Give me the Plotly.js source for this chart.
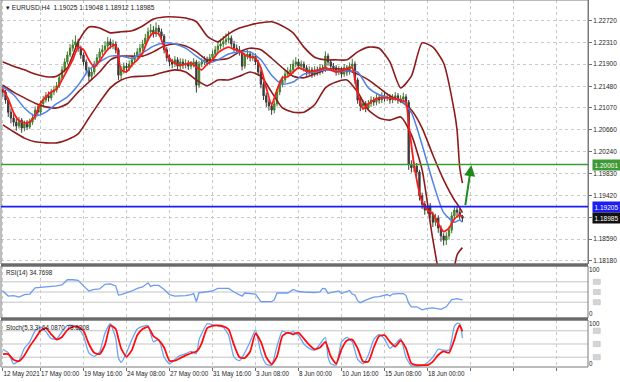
<!DOCTYPE html>
<html><head><meta charset="utf-8">
<script src="https://cdn.plot.ly/plotly-3.0.1.min.js"></script>
<style>html,body{margin:0;padding:0;background:#fff;}#chart{width:620px;height:382px;}</style>
</head><body><div id="chart"></div>
<script>
// ---- bar axis (H4 bars, index of bar) ----
const firstBar = 2;
const timeTickBars = [2,16,32,48,64,80,96,112,128,144,160,176,192,208];
const timeTickText = ['12 May 2021','17 May 00:00','19 May 16:00','24 May 08:00','27 May 00:00','31 May 16:00','3 Jun 08:00','8 Jun 00:00','10 Jun 16:00','15 Jun 08:00','18 Jun 00:00','','',''];

// ---- price scale ----
const priceTicks = [1.22720,1.22310,1.21900,1.21480,1.21070,1.20660,1.20240,1.19830,1.19420,1.19005,1.18590,1.18180];
const priceTickText = ['1.22720','1.22310','1.21900','1.21480','1.21070','1.20660','1.20240','1.19830','1.19420','','1.18590','1.18180'];

// ---- EURUSD H4 candles ----
const openP = [1.2142,1.2137,1.2122,1.2099,1.2088,1.2080,1.2073,1.2084,1.2069,1.2077,
1.2071,1.2080,1.2088,1.2103,1.2099,1.2115,1.2122,1.2130,1.2126,1.2137,
1.2141,1.2149,1.2164,1.2179,1.2194,1.2207,1.2220,1.2226,1.2232,1.2220,
1.2207,1.2194,1.2179,1.2167,1.2175,1.2190,1.2202,1.2213,1.2217,1.2224,
1.2232,1.2226,1.2228,1.2217,1.2169,1.2179,1.2186,1.2183,1.2190,1.2198,
1.2205,1.2213,1.2220,1.2228,1.2239,1.2251,1.2254,1.2247,1.2258,1.2251,
1.2243,1.2217,1.2202,1.2194,1.2190,1.2198,1.2186,1.2194,1.2188,1.2192,
1.2186,1.2190,1.2194,1.2150,1.2190,1.2194,1.2198,1.2194,1.2202,1.2209,
1.2217,1.2224,1.2228,1.2232,1.2236,1.2239,1.2228,1.2220,1.2217,1.2213,
1.2186,1.2205,1.2209,1.2202,1.2205,1.2194,1.2175,1.2152,1.2130,1.2118,
1.2111,1.2103,1.2115,1.2137,1.2152,1.2160,1.2171,1.2175,1.2179,1.2190,
1.2194,1.2186,1.2190,1.2183,1.2175,1.2179,1.2171,1.2179,1.2175,1.2183,
1.2179,1.2205,1.2194,1.2186,1.2183,1.2175,1.2179,1.2171,1.2183,1.2175,
1.2186,1.2190,1.2160,1.2122,1.2111,1.2115,1.2107,1.2115,1.2122,1.2118,
1.2126,1.2122,1.2130,1.2126,1.2128,1.2122,1.2126,1.2130,1.2122,1.2124,
1.2128,1.2118,1.2000,1.1994,1.1997,1.1986,1.1941,1.1925,1.1914,1.1922,
1.1906,1.1891,1.1899,1.1880,1.1865,1.1857,1.1865,1.1876,1.1903,1.1914,
1.1910,1.19025];
const highP = [1.2150,1.2141,1.2126,1.2106,1.2095,1.2086,1.2090,1.2088,1.2083,1.2084,
1.2087,1.2096,1.2110,1.2112,1.2121,1.2130,1.2137,1.2138,1.2143,1.2149,
1.2156,1.2170,1.2186,1.2201,1.2214,1.2228,1.2236,1.2244,1.2238,1.2225,
1.2212,1.2199,1.2185,1.2182,1.2196,1.2209,1.2220,1.2226,1.2233,1.2241,
1.2238,1.2236,1.2233,1.2221,1.2186,1.2193,1.2192,1.2197,1.2205,1.2212,
1.2220,1.2228,1.2236,1.2247,1.2259,1.2266,1.2262,1.2269,1.2264,1.2257,
1.2247,1.2222,1.2208,1.2200,1.2205,1.2203,1.2201,1.2200,1.2199,1.2197,
1.2196,1.2201,1.2198,1.2196,1.2201,1.2205,1.2204,1.2209,1.2216,1.2224,
1.2232,1.2238,1.2243,1.2248,1.2252,1.2244,1.2234,1.2227,1.2224,1.2217,
1.2211,1.2217,1.2214,1.2212,1.2210,1.2198,1.2180,1.2157,1.2136,1.2124,
1.2117,1.2121,1.2143,1.2159,1.2168,1.2179,1.2184,1.2190,1.2198,1.2203,
1.2200,1.2197,1.2195,1.2188,1.2186,1.2184,1.2186,1.2185,1.2190,1.2189,
1.2214,1.2210,1.2199,1.2192,1.2188,1.2186,1.2184,1.2190,1.2188,1.2193,
1.2200,1.2195,1.2164,1.2128,1.2122,1.2120,1.2122,1.2129,1.2128,1.2133,
1.2132,1.2137,1.2136,1.2135,1.2133,1.2133,1.2137,1.2135,1.2131,1.2136,
1.2133,1.2122,1.2008,1.2005,1.2003,1.1990,1.1947,1.1931,1.1930,1.1927,
1.1911,1.1907,1.1904,1.1885,1.1870,1.1872,1.1883,1.1910,1.1922,1.1921,
1.1916,1.19048];
const lowP = [1.2128,1.2115,1.2090,1.2078,1.2072,1.2064,1.2068,1.2060,1.2063,1.2066,
1.2067,1.2075,1.2084,1.2092,1.2095,1.2110,1.2117,1.2119,1.2121,1.2131,
1.2136,1.2145,1.2160,1.2174,1.2189,1.2203,1.2214,1.2219,1.2213,1.2200,
1.2187,1.2171,1.2158,1.2161,1.2170,1.2185,1.2197,1.2207,1.2211,1.2218,
1.2219,1.2218,1.2210,1.2160,1.2162,1.2172,1.2175,1.2177,1.2184,1.2192,
1.2199,1.2207,1.2214,1.2222,1.2233,1.2244,1.2240,1.2241,1.2244,1.2236,
1.2210,1.2195,1.2186,1.2182,1.2184,1.2179,1.2180,1.2181,1.2182,1.2179,
1.2180,1.2184,1.2136,1.2145,1.2184,1.2188,1.2187,1.2188,1.2196,1.2203,
1.2211,1.2218,1.2221,1.2226,1.2229,1.2221,1.2213,1.2210,1.2206,1.2178,
1.2181,1.2199,1.2195,1.2196,1.2188,1.2168,1.2144,1.2122,1.2109,1.2102,
1.2094,1.2097,1.2110,1.2131,1.2146,1.2154,1.2165,1.2168,1.2172,1.2184,
1.2180,1.2179,1.2176,1.2168,1.2169,1.2164,1.2166,1.2168,1.2169,1.2172,
1.2175,1.2187,1.2180,1.2176,1.2168,1.2169,1.2164,1.2166,1.2168,1.2170,
1.2181,1.2153,1.2115,1.2101,1.2104,1.2099,1.2101,1.2109,1.2111,1.2112,
1.2115,1.2116,1.2119,1.2120,1.2115,1.2116,1.2120,1.2115,1.2116,1.2118,
1.2110,1.1990,1.1985,1.1986,1.1978,1.1932,1.1916,1.1905,1.1907,1.1898,
1.1882,1.1884,1.1871,1.1854,1.1847,1.1848,1.1858,1.1870,1.1896,1.1902,
1.1895,1.18912];
const closeP = [1.2137,1.2122,1.2099,1.2088,1.2080,1.2073,1.2084,1.2069,1.2077,1.2071,
1.2080,1.2088,1.2103,1.2099,1.2115,1.2122,1.2130,1.2126,1.2137,1.2141,
1.2149,1.2164,1.2179,1.2194,1.2207,1.2220,1.2226,1.2232,1.2220,1.2207,
1.2194,1.2179,1.2167,1.2175,1.2190,1.2202,1.2213,1.2217,1.2224,1.2232,
1.2226,1.2228,1.2217,1.2169,1.2179,1.2186,1.2183,1.2190,1.2198,1.2205,
1.2213,1.2220,1.2228,1.2239,1.2251,1.2254,1.2247,1.2258,1.2251,1.2243,
1.2217,1.2202,1.2194,1.2190,1.2198,1.2186,1.2194,1.2188,1.2192,1.2186,
1.2190,1.2194,1.2150,1.2190,1.2194,1.2198,1.2194,1.2202,1.2209,1.2217,
1.2224,1.2228,1.2232,1.2236,1.2239,1.2228,1.2220,1.2217,1.2213,1.2186,
1.2205,1.2209,1.2202,1.2205,1.2194,1.2175,1.2152,1.2130,1.2118,1.2111,
1.2103,1.2115,1.2137,1.2152,1.2160,1.2171,1.2175,1.2179,1.2190,1.2194,
1.2186,1.2190,1.2183,1.2175,1.2179,1.2171,1.2179,1.2175,1.2183,1.2179,
1.2205,1.2194,1.2186,1.2183,1.2175,1.2179,1.2171,1.2183,1.2175,1.2186,
1.2190,1.2160,1.2122,1.2111,1.2115,1.2107,1.2115,1.2122,1.2118,1.2126,
1.2122,1.2130,1.2126,1.2128,1.2122,1.2126,1.2130,1.2122,1.2124,1.2128,
1.2118,1.2000,1.1994,1.1997,1.1986,1.1941,1.1925,1.1914,1.1922,1.1906,
1.1891,1.1899,1.1880,1.1865,1.1857,1.1865,1.1876,1.1903,1.1914,1.1910,
1.19025,1.18985];

// ---- Bollinger bands and blue MA (read at these bars) ----
const bandBars = [2,6,10,14,18,22,26,30,34,38,42,46,50,54,58,62,66,70,74,78,82,86,90,94,98,102,106,110,114,118,122,126,130,134,138,142,146,150,154,158,162,166,170,171,172,173];
const bbUpper = [1.2194,1.2186,1.2179,1.2171,1.2166,1.2167,1.2183,1.2232,1.2260,1.2258,1.2249,1.2251,1.2253,1.2262,1.2275,1.2279,1.2279,1.2277,1.2270,1.2243,1.2232,1.2247,1.2258,1.2264,1.2268,1.2270,1.2262,1.2249,1.2222,1.2203,1.2198,1.2198,1.2198,1.2213,1.2222,1.2220,1.2194,1.2145,1.2167,1.2230,1.2222,1.2192,1.2100,1.2065,1.1994,1.1965];
const bbMiddle = [1.2150,1.2137,1.2126,1.2116,1.2109,1.2107,1.2115,1.2137,1.2156,1.2175,1.2198,1.2205,1.2205,1.2205,1.2213,1.2224,1.2228,1.2224,1.2213,1.2198,1.2198,1.2201,1.2213,1.2220,1.2217,1.2201,1.2183,1.2167,1.2164,1.2171,1.2179,1.2181,1.2179,1.2171,1.2160,1.2145,1.2130,1.2120,1.2103,1.2069,1.2018,1.1971,1.1933,1.1926,1.1918,1.1909];
const bbLower = [1.2075,1.2062,1.2050,1.2043,1.2041,1.2041,1.2047,1.2058,1.2088,1.2118,1.2145,1.2160,1.2166,1.2167,1.2169,1.2175,1.2179,1.2175,1.2160,1.2149,1.2160,1.2160,1.2167,1.2175,1.2167,1.2137,1.2107,1.2099,1.2099,1.2113,1.2145,1.2156,1.2160,1.2137,1.2103,1.2088,1.2084,1.2090,1.2056,1.1990,1.1858,1.1763,1.1808,1.1829,1.1837,1.1843];
const blueMA = [1.2147,1.2132,1.2107,1.2092,1.2099,1.2115,1.2128,1.2150,1.2179,1.2194,1.2205,1.2205,1.2201,1.2211,1.2224,1.2230,1.2228,1.2220,1.2205,1.2192,1.2198,1.2209,1.2213,1.2213,1.2198,1.2169,1.2152,1.2156,1.2171,1.2175,1.2179,1.2177,1.2177,1.2175,1.2145,1.2132,1.2126,1.2122,1.2098,1.2037,1.1967,1.1909,1.1891,1.1893,1.1895,1.1891];

// ---- fast red MA ----
const redBars = [2,4,6,8,10,12,14,16,18,20,22,24,26,28,30,32,34,36,38,40,42,44,46,48,50,52,54,56,58,60,62,64,66,68,70,72,74,76,78,80,82,84,86,88,90,92,94,96,98,100,102,104,106,108,110,112,114,116,118,120,122,124,126,128,130,132,134,136,138,140,142,144,146,148,150,152,153,154,155,156,157,158,160,162,164,166,168,170,172,173];
const redMA = [1.2143,1.2124,1.2098,1.2083,1.2079,1.2081,1.2092,1.2116,1.2128,1.2137,1.2143,1.2160,1.2179,1.2198,1.2222,1.2217,1.2198,1.2184,1.2196,1.2211,1.2222,1.2226,1.2179,1.2175,1.2188,1.2198,1.2211,1.2236,1.2249,1.2247,1.2222,1.2200,1.2192,1.2188,1.2190,1.2192,1.2184,1.2179,1.2190,1.2198,1.2211,1.2218,1.2222,1.2218,1.2215,1.2207,1.2203,1.2201,1.2183,1.2145,1.2113,1.2141,1.2164,1.2166,1.2175,1.2183,1.2179,1.2175,1.2177,1.2179,1.2183,1.2179,1.2175,1.2177,1.2181,1.2183,1.2135,1.2105,1.2115,1.2122,1.2126,1.2126,1.2126,1.2124,1.2122,1.2118,1.2075,1.2037,1.1999,1.1971,1.1946,1.1929,1.1914,1.1907,1.1888,1.1873,1.1880,1.1897,1.1905,1.1901];

// ---- RSI(14) ----
const rsiBars = [2,4,6,8,10,12,14,16,18,20,22,24,26,28,30,32,34,36,38,40,42,44,45,46,48,50,52,54,56,57,58,60,62,64,66,68,70,72,73,74,75,76,78,80,82,84,86,88,90,91,92,94,96,98,100,102,103,104,106,108,110,112,114,116,118,120,121,122,123,124,126,127,128,130,131,132,133,134,135,137,138,140,142,144,145,146,147,149,151,152,153,154,156,158,160,162,164,165,167,169,171,173];
const rsiValues = [52,42,43,40,45,46,58,59,59,61,62,64,74,74,73,62,52,55,56,65,66,62,44,45,48,52,57,60,68,61,63,63,55,45,42,42,43,45,47,31,49,49,50,52,57,57,57,50,44,42,48,47,46,31,31,31,35,48,48,48,55,51,50,49,49,50,57,56,47,49,52,52,47,52,53,46,44,33,29,34,36,40,41,43,45,42,46,47,47,43,28,21,21,15,18,19,17,16,21,35,37,34.7698];
const rsiLevels = [70,50,30];

// ---- Stochastic(5,3,3) ----
const stochBars = [2,4,6,8,10,12,14,16,18,20,22,24,26,28,30,32,34,36,38,40,42,44,45,46,48,50,52,54,56,58,60,62,64,66,68,70,72,74,75,76,78,80,82,84,86,88,90,92,94,96,98,100,102,104,106,108,110,112,114,116,118,120,122,123,124,126,128,130,132,134,136,138,140,142,144,146,148,150,152,154,156,158,160,162,164,166,168,170,171,172,173];
const stochK = [38,30,5,12,40,55,80,88,78,62,62,78,92,92,86,68,30,22,32,75,96,62,18,8,30,60,84,90,92,55,60,20,5,15,24,28,33,28,60,74,96,94,92,88,70,20,12,30,55,82,30,4,2,45,80,74,78,70,50,40,36,50,65,20,5,2,55,65,55,15,5,25,60,72,62,40,50,62,20,0,0,1,8,20,38,36,36,90,97,96,64.087];
const stochD = [27,27,14,11,24,45,62,80,86,72,60,66,82,89,89,80,50,30,27,48,92,84,62,40,21,36,70,84,89,68,59,42,12,12,18,24,29,33,40,52,86,91,92,90,83,48,20,18,33,74,55,20,4,22,68,76,72,76,62,48,38,42,55,40,22,5,38,58,60,40,10,10,42,68,70,55,44,58,40,6,2,2,2,10,25,33,30,60,80,93,78.6208];
const stochLevels = [80,50,20];

// ---- horizontal levels, arrow, labels ----
const supportLevel = 1.20001;
const pivotLevel = 1.19205;
const lastPrice = 1.18985;
const arrowFrom = [174.0, 1.19205];
const arrowTo = [176.3, 1.19990];
const titleText = '\u25BE EURUSD,H4  1.19025 1.19048 1.18912 1.18985';
const rsiTitle = 'RSI(14) 34.7698';
const stochTitle = 'Stoch(5,3,3) 64.0870 78.6208';

// ------------------------------------------------------------------
const bars = openP.map((_, k) => firstBar + k);
const H = 368; // plot-area height in px (t=0,b=14)
const py = p => 1 - p / H; // px -> paper
const FONT = 'Liberation Sans, Arial, sans-serif';

const traces = [
  {type:'candlestick', x:bars, open:openP, high:highP, low:lowP, close:closeP,
   xaxis:'x', yaxis:'y', hoverinfo:'skip', whiskerwidth:0,
   increasing:{line:{color:'#3f7a2a', width:1}, fillcolor:'#46a02a'},
   decreasing:{line:{color:'#3a3a3a', width:1}, fillcolor:'#3a3a3a'}},
  {type:'scatter', mode:'lines', x:bandBars, y:bbUpper, yaxis:'y', line:{color:'#8e1b1b', width:1.6, shape:'spline', smoothing:0.6}, hoverinfo:'skip'},
  {type:'scatter', mode:'lines', x:bandBars, y:bbMiddle, yaxis:'y', line:{color:'#8e1b1b', width:1.6, shape:'spline', smoothing:0.6}, hoverinfo:'skip'},
  {type:'scatter', mode:'lines', x:bandBars, y:bbLower, yaxis:'y', line:{color:'#8e1b1b', width:1.6, shape:'spline', smoothing:0.6}, hoverinfo:'skip'},
  {type:'scatter', mode:'lines', x:bandBars, y:blueMA, yaxis:'y', line:{color:'#4f82e6', width:1.5, shape:'spline', smoothing:0.6}, hoverinfo:'skip'},
  {type:'scatter', mode:'lines', x:redBars, y:redMA, yaxis:'y', line:{color:'#ff1a1a', width:1.8, shape:'spline', smoothing:0.5}, hoverinfo:'skip'},
  {type:'scatter', mode:'lines', x:rsiBars, y:rsiValues, yaxis:'y2', line:{color:'#6b9cf0', width:1.3}, hoverinfo:'skip'},
  {type:'scatter', mode:'lines', x:stochBars, y:stochK, yaxis:'y3', line:{color:'#6aa6f2', width:1.3, shape:'spline', smoothing:0.5}, hoverinfo:'skip'},
  {type:'scatter', mode:'lines', x:stochBars, y:stochD, yaxis:'y3', line:{color:'#ff0d0d', width:1.8, shape:'spline', smoothing:0.5}, hoverinfo:'skip'}
];

const gridStyle = {showgrid:true, gridcolor:'#c9c9c9', griddash:'dot', gridwidth:1};
const domMain = [py(264), 1];
const domRsi = [py(318), py(266)];
const domSto = [py(367), py(320)];

const shapes = [];
// panel frames
[[0,264],[266,318],[320,367]].forEach(([a,b]) => shapes.push({type:'rect', xref:'paper', yref:'paper', x0:0, x1:1, y0:py(b), y1:py(a), line:{color:'#7a7a7a', width:1}, layer:'above'}));
// separators
[[263.5,266.5],[317.5,320.5]].forEach(([a,b]) => shapes.push({type:'rect', xref:'paper', yref:'paper', x0:0, x1:1, y0:py(b), y1:py(a), fillcolor:'#6a6a6a', line:{width:0}, layer:'above'}));
// levels
rsiLevels.forEach(v => shapes.push({type:'line', xref:'paper', yref:'y2', x0:0, x1:1, y0:v, y1:v, line:{color:'#c4c4c4', width:1}, layer:'below'}));
stochLevels.forEach(v => shapes.push({type:'line', xref:'paper', yref:'y3', x0:0, x1:1, y0:v, y1:v, line:{color:'#c4c4c4', width:1}, layer:'below'}));
// small grey level tags on the right scale
rsiLevels.forEach(v => shapes.push({type:'rect', xref:'paper', yref:'y2', x0:1.009, x1:1.021, y0:v-5, y1:v+5, fillcolor:'#d4d4d4', line:{color:'#bdbdbd', width:0.5}}));
stochLevels.forEach(v => shapes.push({type:'rect', xref:'paper', yref:'y3', x0:1.009, x1:1.021, y0:v-6, y1:v+6, fillcolor:'#d4d4d4', line:{color:'#bdbdbd', width:0.5}}));
// horizontal lines
shapes.push({type:'line', xref:'paper', yref:'y', x0:0, x1:1, y0:supportLevel, y1:supportLevel, line:{color:'#3d9a35', width:1.6}});
shapes.push({type:'line', xref:'paper', yref:'y', x0:0, x1:1, y0:pivotLevel, y1:pivotLevel, line:{color:'#1c1cf5', width:1.6}});

const priceTag = (v, bg) => ({xref:'paper', yref:'y', x:1, y:v, xanchor:'left', yanchor:'middle', xshift:4,
  text:v.toFixed(5), showarrow:false, bgcolor:bg, borderpad:1.5, font:{family:FONT, size:6.5, color:'#ffffff'}});

const annotations = [
  {xref:'paper', yref:'paper', x:0, y:py(8), xanchor:'left', yanchor:'middle', xshift:3, text:titleText, showarrow:false, font:{family:FONT, size:6.6, color:'#1a1a1a'}},
  {xref:'paper', yref:'paper', x:0, y:py(272.5), xanchor:'left', yanchor:'middle', xshift:3, text:rsiTitle, showarrow:false, font:{family:FONT, size:6.3, color:'#1a1a1a'}},
  {xref:'paper', yref:'paper', x:0, y:py(327.5), xanchor:'left', yanchor:'middle', xshift:3, text:stochTitle, showarrow:false, font:{family:FONT, size:6.3, color:'#1a1a1a'}},
  priceTag(supportLevel, '#3d9a35'),
  priceTag(pivotLevel, '#1c1cf5'),
  priceTag(lastPrice, '#111111'),
  {xref:'x', yref:'y', axref:'x', ayref:'y', x:arrowTo[0], y:arrowTo[1], ax:arrowFrom[0], ay:arrowFrom[1], text:'', showarrow:true, arrowhead:2, arrowsize:1.1, arrowwidth:2, arrowcolor:'#1e8a1e'}
];

const layout = {
  width:620, height:382, margin:{l:1, r:32, t:0, b:14},
  paper_bgcolor:'#ffffff', plot_bgcolor:'#ffffff', showlegend:false,
  font:{family:FONT, size:6.5, color:'#1e1e1e'},
  xaxis:Object.assign({domain:[0,1], range:[1.302, 219.72], anchor:'y3', tickvals:timeTickBars, ticktext:timeTickText,
    ticks:'outside', ticklen:3, tickcolor:'#707070', ticklabelposition:'outside right', tickangle:0, tickfont:{size:6.3},
    automargin:false, zeroline:false, showline:false, rangeslider:{visible:false}, fixedrange:true}, gridStyle),
  yaxis:Object.assign({domain:domMain, range:[1.18120, 1.23111], side:'right', anchor:'x', tickvals:priceTicks, ticktext:priceTickText,
    ticks:'outside', ticklen:3, tickcolor:'#707070', showline:true, linecolor:'#7a7a7a', zeroline:false, tickfont:{size:6.5}}, gridStyle),
  yaxis2:{domain:domRsi, range:[-0.98, 100.98], side:'right', anchor:'x', tickvals:[93.6, 6.8], ticktext:['100','0'], ticks:'',
    showgrid:false, zeroline:false, showline:false, tickfont:{size:6.3}},
  yaxis3:{domain:domSto, range:[-2.27, 104.5], side:'right', anchor:'x', tickvals:[95.5, 6.1], ticktext:['100','0'], ticks:'',
    showgrid:false, zeroline:false, showline:false, tickfont:{size:6.3}},
  shapes:shapes, annotations:annotations
};

Plotly.newPlot('chart', traces, layout, {staticPlot:true, displayModeBar:false});
</script>
</body></html>
